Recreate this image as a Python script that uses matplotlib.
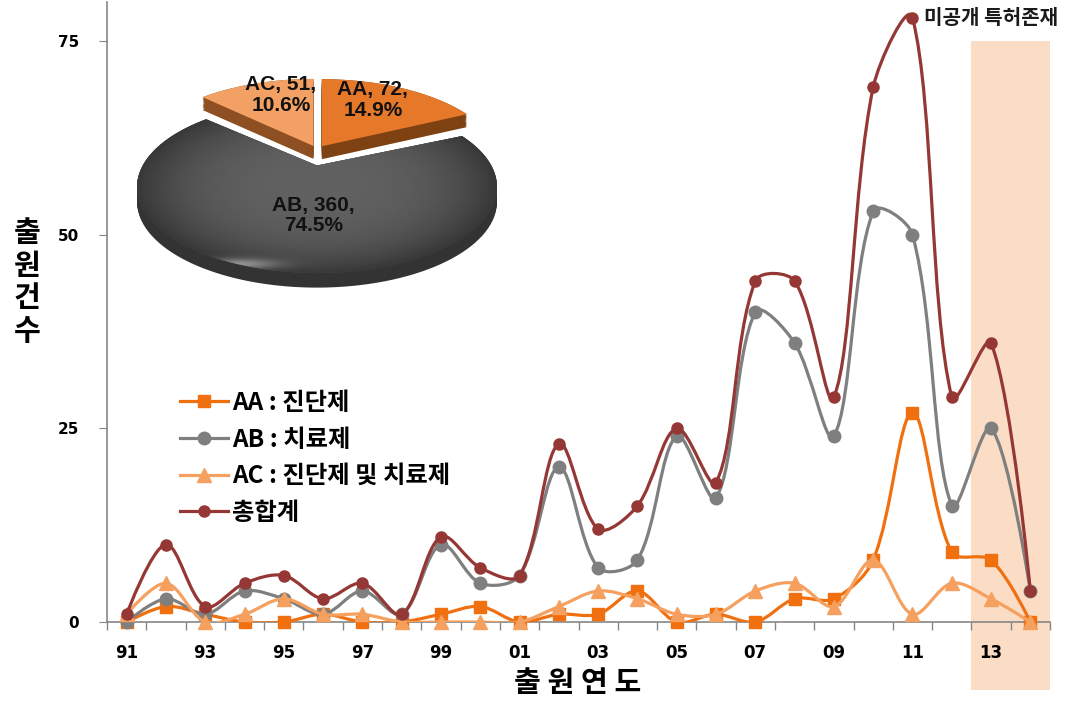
import numpy as np
import matplotlib
matplotlib.use('Agg')
import matplotlib.pyplot as plt
from matplotlib.path import Path
from matplotlib.patches import PathPatch, Rectangle, Polygon
from matplotlib.lines import Line2D

plt.rcParams['font.family'] = ['Noto Sans CJK KR', 'DejaVu Sans']

# yearly filing counts 1991 - 2014
years = ['91', '92', '93', '94', '95', '96', '97', '98', '99', '00', '01', '02',
         '03', '04', '05', '06', '07', '08', '09', '10', '11', '12', '13', '14']
aa = [0, 2, 1, 0, 0, 1, 0, 0, 1, 2, 0, 1, 1, 4, 0, 1, 0, 3, 3, 8, 27, 9, 8, 0]
ab = [0, 3, 1, 4, 3, 1, 4, 1, 10, 5, 6, 20, 7, 8, 24, 16, 40, 36, 24, 53, 50, 15, 25, 4]
ac = [1, 5, 0, 1, 3, 1, 1, 0, 0, 0, 0, 2, 4, 3, 1, 1, 4, 5, 2, 8, 1, 5, 3, 0]
total = [1, 10, 2, 5, 6, 3, 5, 1, 11, 7, 6, 23, 12, 15, 25, 18, 44, 44, 29, 69, 78, 29, 36, 4]

legend_labels = ['AA : 진단제', 'AB : 치료제', 'AC : 진단제 및 치료제', '총합계']

pie_names = ['AA', 'AB', 'AC']
pie_values = [72, 360, 51]

# screen scale used for the smoothing (pixels per x step / per y unit)
SX, SY = 39.3, 7.75


def smooth_path(x, y):
    # excel-like smoothed line: bezier with tangents shortened by segment length
    pts = np.column_stack([x, y]).astype(float)
    sc = np.array([SX, SY])
    n = len(pts)

    def seg(a, b):
        return np.hypot(*((pts[b] - pts[a]) * sc))

    verts = [pts[0]]
    codes = [Path.MOVETO]
    for i in range(n - 1):
        i0, i3 = max(i - 1, 0), min(i + 2, n - 1)
        l01, l12, l23 = seg(i0, i), seg(i, i + 1), seg(i + 1, i3)
        k1 = l12 / (l01 + l12) * 2 / 3 if l01 > 0 else 0
        k2 = l12 / (l12 + l23) * 2 / 3 if l23 > 0 else 0
        c1 = pts[i] + (pts[i + 1] - pts[i0]) / 2 * k1
        c2 = pts[i + 1] - (pts[i3] - pts[i]) / 2 * k2
        verts += [c1, c2, pts[i + 1]]
        codes += [Path.CURVE4] * 3
    return Path(verts, codes)


def slice_poly(cx, cy, t1, t2, apex=0.25):
    # pie slice on an ellipse whose apex sits a bit behind the centre (perspective)
    t = np.deg2rad(np.linspace(t1, t2, 120))
    arc = np.column_stack([cx + np.cos(t), cy + np.sin(t)])
    return np.vstack([[cx, cy + apex], arc])


fig = plt.figure(figsize=(10.79, 7.05), dpi=100)
ax = fig.add_axes([107 / 1079, 1 - 622 / 705, 943 / 1079, 620 / 705])
ax.set_facecolor('none')

x = np.arange(len(years))

series = [
    (aa, '#F07010', 's', 9, 2.3),
    (ab, '#7F7F7F', 'o', 9, 2.3),
    (ac, '#F5A05E', '^', 10, 2.3),
    (total, '#953735', 'o', 8, 2.3),
]
handles = []
for i, (vals, col, mk, ms, lw) in enumerate(series):
    ax.add_patch(PathPatch(smooth_path(x, vals), facecolor='none', edgecolor=col,
                           lw=lw, zorder=3 + i, capstyle='round'))
    ax.plot(x, vals, ls='none', marker=mk, ms=ms, color=col, mec=col, zorder=3.5 + i,
            clip_on=False)
    handles.append(Line2D([], [], color=col, lw=lw, marker=mk, ms=ms, mec=col))

# unpublished period band
ax.add_patch(Rectangle((21.5, -8.8), 2, 83.8, facecolor='#FBDDC6', edgecolor='none',
                       zorder=0, clip_on=False))
fig.text(924 / 1079, 1 - 18 / 705, '미공개 특허존재', ha='left', va='center', fontsize=14.5,
         fontweight='bold', color='#1a1a1a')

ax.set_xlim(-0.5, 23.5)
ax.set_ylim(0, 80)
ax.set_yticks([0, 25, 50, 75])
ax.set_xticks(x[::2])
ax.set_xticklabels(years[::2])
ax.set_xticks(np.arange(-0.5, 24, 1), minor=True)
ax.tick_params(axis='x', which='major', length=0, pad=16, labelsize=12)
ax.tick_params(axis='x', which='minor', length=6, color='#868686', width=1)
ax.tick_params(axis='y', length=6, color='#868686', pad=14, labelsize=11)
for lab in ax.get_xticklabels() + ax.get_yticklabels():
    lab.set_fontfamily('DejaVu Sans')
    lab.set_fontweight('bold')
for s in ['top', 'right']:
    ax.spines[s].set_visible(False)
for s in ['left', 'bottom']:
    ax.spines[s].set_color('#868686')
    ax.spines[s].set_linewidth(1.2)

fig.text(27 / 1079, 1 - 282 / 705, '출\n원\n건\n수', ha='center', va='center',
         fontsize=21, fontweight='bold', linespacing=1.1)
fig.text(578 / 1079, 1 - 683 / 705, '출 원 연 도', ha='center', va='center',
         fontsize=21, fontweight='bold')

ax.legend(handles, legend_labels, loc='upper left', bbox_to_anchor=(0.054, 0.408),
          frameon=False, handlelength=2.0, labelspacing=0.52, handletextpad=0.15,
          prop={'family': ['Noto Sans CJK KR'], 'weight': 'bold', 'size': 17.5})

# 3d-looking pie inset
pax = fig.add_axes([127 / 1079, 1 - 300 / 705, 380 / 1079, 260 / 705])
pax.set_xlim(-190 / 180, 190 / 180)
pax.set_ylim(-113 / 86, 147 / 86)
pax.axis('off')

tot = sum(pie_values)
fracs = [v / tot for v in pie_values]
# AA starts at 12 o'clock going clockwise, then AB, then AC
aa_t2 = 90
aa_t1 = 90 - 360 * fracs[0]
ac_t1 = 90
ac_t2 = 90 + 360 * fracs[2]
ab_t1 = ac_t2
ab_t2 = aa_t1 + 360

depth = 0.17
for k in np.linspace(-depth, 0, 15):
    pax.add_patch(Polygon(slice_poly(0, k, ab_t1, ab_t2), facecolor='#333333',
                          edgecolor='none'))
ab_top = Polygon(slice_poly(0, 0, ab_t1, ab_t2), facecolor='#555555', edgecolor='none')
pax.add_patch(ab_top)
gx, gy = np.meshgrid(np.linspace(-1, 1, 300), np.linspace(-1, 1, 300))
rr = np.sqrt(gx ** 2 + gy ** 2)
shade = 0.38 - 0.16 * rr ** 3
shade += 0.35 * np.exp(-((gx + 0.45) ** 2 / 0.05 + (gy + 0.9) ** 2 / 0.004))
img = pax.imshow(np.clip(shade, 0, 1), cmap='gray', vmin=0, vmax=1, extent=[-1, 1, -1, 1],
                 origin='lower', aspect='auto', zorder=2)
img.set_clip_path(ab_top)

explode = 0.06
lift = 0.2
for (t1, t2, top, side) in [(ac_t1, ac_t2, '#F2A064', '#8E4F22'),
                            (aa_t1, aa_t2, '#E6782A', '#7E4212')]:
    mid = np.deg2rad((t1 + t2) / 2)
    cx = explode * np.cos(mid)
    cy = explode * np.sin(mid) + lift
    for k in np.linspace(-0.15, 0, 12):
        pax.add_patch(Polygon(slice_poly(cx, cy + k, t1, t2, 0.22), facecolor=side,
                              edgecolor='none', zorder=3))
    pax.add_patch(Polygon(slice_poly(cx, cy, t1, t2, 0.22), facecolor=top,
                          edgecolor='none', zorder=3.5))

pie_font = {'family': ['Liberation Sans'], 'weight': 'bold', 'size': 15}
pie_label_xy = {'AA': (0.31, 1.01), 'AB': (-0.02, -0.33), 'AC': (-0.2, 1.07)}
for name, val, fr in zip(pie_names, pie_values, fracs):
    lx, ly = pie_label_xy[name]
    pax.text(lx, ly, f'{name}, {val},\n{fr * 100:.1f}%',
             ha='center', va='center', color='#111111', zorder=5, linespacing=1.1,
             **pie_font)

fig.savefig('out.png', dpi=100)
